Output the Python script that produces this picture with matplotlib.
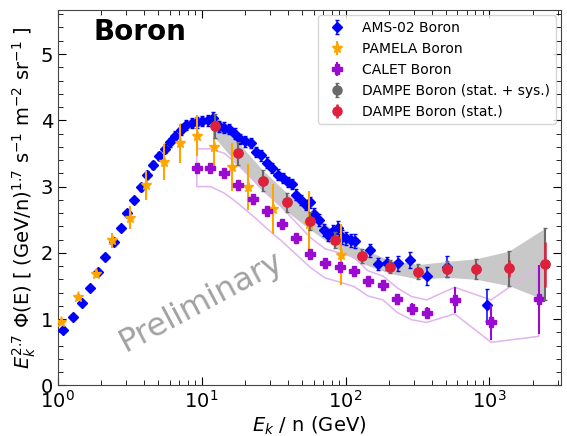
import numpy as np
import matplotlib
matplotlib.use("Agg")
import matplotlib.pyplot as plt
from matplotlib.ticker import MultipleLocator, LogLocator, NullFormatter

# AMS-02 boron: Ek/n (GeV), E^2.7 flux, error
ams_e = [1.09, 1.28, 1.47, 1.68, 1.91, 2.14, 2.44, 2.74, 3.02, 3.39, 3.80, 4.15, 4.60, 5.07,
         5.55, 6.02, 6.56, 7.16, 7.80, 8.50, 9.30, 10.1, 11.0, 12.0, 13.1, 14.3, 15.6, 17.0,
         18.5, 20.1, 21.9, 23.9, 26.0, 28.5, 31.0, 33.8, 36.8, 39.8, 42.6, 45.2, 48.7, 53.0,
         56.2, 60.0, 65.6, 70.8, 75.9, 81.8, 88.0, 94.4, 101, 109, 117, 147, 169, 195, 233,
         281, 366, 509, 955]
ams_v = [0.83, 1.03, 1.24, 1.47, 1.71, 1.94, 2.16, 2.38, 2.60, 2.79, 2.99, 3.18, 3.32, 3.46,
         3.57, 3.67, 3.77, 3.86, 3.93, 3.96, 3.97, 3.99, 4.00, 4.03, 3.91, 3.89, 3.87, 3.80,
         3.72, 3.68, 3.66, 3.52, 3.47, 3.36, 3.28, 3.18, 3.13, 3.07, 3.04, 2.88, 2.80, 2.72,
         2.76, 2.59, 2.50, 2.35, 2.27, 2.33, 2.38, 2.24, 2.22, 2.19, 2.18, 2.04, 1.83, 1.84, 1.84,
         1.89, 1.65, 1.79, 1.21]
ams_err = [0.02, 0.02, 0.02, 0.02, 0.02, 0.03, 0.03, 0.03, 0.04, 0.04, 0.05, 0.05, 0.06, 0.06,
           0.07, 0.07, 0.07, 0.08, 0.08, 0.08, 0.08, 0.08, 0.08, 0.09, 0.08, 0.08, 0.08, 0.08,
           0.08, 0.08, 0.08, 0.08, 0.08, 0.08, 0.08, 0.08, 0.08, 0.08, 0.08, 0.08, 0.08, 0.08,
           0.09, 0.08, 0.09, 0.09, 0.09, 0.09, 0.10, 0.10, 0.10, 0.10, 0.10, 0.10, 0.09, 0.10, 0.11,
           0.12, 0.13, 0.16, 0.24]

# PAMELA boron
pam_e = [1.06, 1.38, 1.83, 2.38, 3.16, 4.12, 5.43, 7.10, 9.25, 12.1, 16.2, 21.1, 31.5, 55.3, 92.8]
pam_v = [0.96, 1.34, 1.68, 2.19, 2.53, 3.02, 3.37, 3.65, 3.77, 3.60, 3.29, 2.99, 2.66, 2.43, 1.97]
pam_err = [0.03, 0.04, 0.06, 0.11, 0.17, 0.22, 0.27, 0.30, 0.31, 0.33, 0.36, 0.35, 0.38, 0.50, 0.46]

# CALET boron (points, stat error, systematic band)
cal_e = [9.25, 11.5, 14.4, 17.8, 22.9, 28.3, 35.9, 45.2, 56.9, 72.2, 91.3, 115, 143, 182, 229,
         288, 366, 573, 1028, 2202]
cal_v = [3.28, 3.28, 3.20, 3.03, 2.81, 2.63, 2.43, 2.22, 1.99, 1.84, 1.79, 1.72, 1.58, 1.51, 1.30,
         1.16, 1.10, 1.29, 0.95, 1.30]
cal_err = [0.06, 0.06, 0.06, 0.06, 0.06, 0.06, 0.06, 0.06, 0.06, 0.06, 0.07, 0.07, 0.07, 0.07, 0.08,
           0.08, 0.09, 0.19, 0.27, 0.52]
cal_hi = [3.57, 3.57, 3.50, 3.33, 3.10, 2.90, 2.69, 2.46, 2.23, 2.06, 2.00, 1.93, 1.73, 1.65, 1.47,
          1.34, 1.29, 1.48, 1.29, 1.79]
cal_lo = [3.00, 3.00, 2.90, 2.75, 2.55, 2.37, 2.18, 1.98, 1.78, 1.62, 1.56, 1.49, 1.35, 1.29, 1.10,
          0.99, 0.95, 1.08, 0.65, 0.74]

# DAMPE boron: stat and stat+sys errors
dam_e = [12.3, 17.8, 26.5, 39.2, 56.9, 84.7, 130, 203, 320, 509, 809, 1364, 2423]
dam_v = [3.92, 3.50, 3.09, 2.76, 2.48, 2.20, 1.95, 1.79, 1.715, 1.75, 1.756, 1.766, 1.83]
dam_stat = [0.03, 0.03, 0.03, 0.04, 0.04, 0.04, 0.04, 0.04, 0.05, 0.07, 0.09, 0.13, 0.34]
dam_tot = [0.18, 0.17, 0.16, 0.14, 0.13, 0.12, 0.11, 0.10, 0.11, 0.12, 0.155, 0.26, 0.54]

fig = plt.figure(figsize=(5.67, 4.36), dpi=100)
ax = fig.add_axes([0.102, 0.116, 0.888, 0.862])

# grey stat+sys band of DAMPE
dv = np.array(dam_v)
dt = np.array(dam_tot)
ax.fill_between(dam_e, dv - dt, dv + dt, color='#c8c8c8', lw=0, zorder=1)

# CALET systematic band drawn as a closed outline
band_x = cal_e + cal_e[::-1] + [cal_e[0]]
band_y = cal_hi + cal_lo[::-1] + [cal_hi[0]]
ax.plot(band_x, band_y, color='#e2b4ee', lw=1.1, zorder=1.5)

ax.errorbar(ams_e, ams_v, yerr=ams_err, fmt='D', color='blue', ms=5, capsize=1.5,
            elinewidth=1.1, label='AMS-02 Boron', zorder=3)
ax.errorbar(pam_e, pam_v, yerr=pam_err, fmt='*', color='orange', ms=8, capsize=0,
            elinewidth=1.5, label='PAMELA Boron', zorder=4)
ax.errorbar(cal_e, cal_v, yerr=cal_err, fmt='P', color='#9a0ad0', ms=7, capsize=0,
            elinewidth=1.5, label='CALET Boron', zorder=4)
ax.errorbar(dam_e, dam_v, yerr=dam_tot, fmt='o', color='dimgray', ms=6.5, capsize=1.5,
            elinewidth=1.5, label='DAMPE Boron (stat. + sys.)', zorder=5)
ax.errorbar(dam_e, dam_v, yerr=dam_stat, fmt='o', color='#e0203a', ms=6.5, capsize=0,
            elinewidth=1.8, label='DAMPE Boron (stat.)', zorder=6)

ax.set_xscale('log')
ax.set_xlim(1, 10**3.5)
ax.set_ylim(0, 5.67)
ax.yaxis.set_major_locator(MultipleLocator(1))
ax.yaxis.set_minor_locator(MultipleLocator(0.2))
ax.xaxis.set_minor_locator(LogLocator(base=10, subs=np.arange(2, 10)))
ax.xaxis.set_minor_formatter(NullFormatter())
ax.tick_params(which='both', direction='in', top=True, right=True, labelsize=14)
ax.tick_params(which='major', length=6)
ax.tick_params(which='minor', length=3.5)
for s in ax.spines.values():
    s.set_color('#444444')

ax.set_xlabel(r'$E_k$ / n (GeV)', fontsize=14, labelpad=2)
ax.set_ylabel(r'$E_k^{2.7}$ $\Phi$(E) [ (GeV/n)$^{1.7}$ s$^{-1}$ m$^{-2}$ sr$^{-1}$ ]',
              fontsize=14, labelpad=2)

ax.text(0.07, 0.94, 'Boron', transform=ax.transAxes, fontsize=20, fontweight='bold',
        va='center', ha='left')
ax.text(0.285, 0.222, 'Preliminary', transform=ax.transAxes, fontsize=23, color='#8a8a8a',
        alpha=0.8, rotation=28, ha='center', va='center')

ax.legend(loc='upper right', fontsize=10, frameon=True, borderaxespad=0.4)

fig.savefig('out.png', dpi=100)
